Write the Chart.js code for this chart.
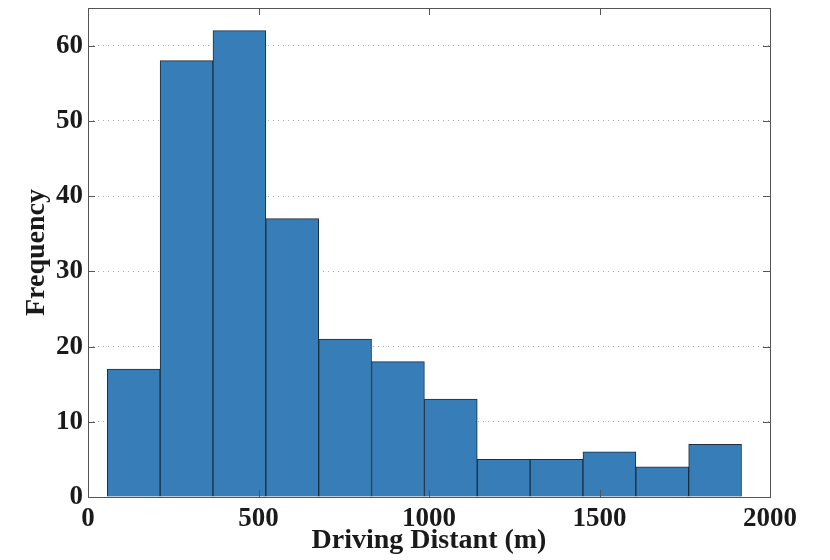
<!DOCTYPE html>
<html>
<head>
<meta charset="utf-8">
<script src="https://cdn.jsdelivr.net/npm/chart.js@4"></script>
<style>
  html, body { margin: 0; padding: 0; background: #fff; }
  #chart { display: block; }
</style>
</head>
<body>
<canvas id="chart" width="830" height="560"></canvas>
<script>
/* Datos del histograma (centros de cada clase y frecuencias) */
const binCenters = [134, 289, 444, 599, 754, 909, 1064, 1219, 1374, 1529, 1684, 1839];
const frequencies = [17, 58, 62, 37, 21, 18, 13, 5, 5, 6, 4, 7];
const xTicks = [0, 500, 1000, 1500, 2000];
const yTicks = [0, 10, 20, 30, 40, 50, 60];
const xLabel = "Driving Distant (m)";
const yLabel = "Frequency";

const ctx = document.getElementById("chart");
const fontFamily = "'Liberation Serif', 'Times New Roman', serif";

/* caja del eje y marcas hacia adentro, estilo matlab */
const boxPlugin = {
  id: "box",
  afterDatasetsDraw(chart) {
    const { ctx: c, chartArea: a, scales } = chart;
    const len = 7;
    c.save();
    c.strokeStyle = "#555";
    c.lineWidth = 1;
    c.beginPath();
    xTicks.forEach((v) => {
      const px = Math.round(scales.x.getPixelForValue(v)) + 0.5;
      c.moveTo(px, a.bottom); c.lineTo(px, a.bottom - len);
      c.moveTo(px, a.top); c.lineTo(px, a.top + len);
    });
    yTicks.forEach((v) => {
      const py = Math.round(scales.y.getPixelForValue(v)) + 0.5;
      c.moveTo(a.left, py); c.lineTo(a.left + len, py);
      c.moveTo(a.right, py); c.lineTo(a.right - len, py);
    });
    c.stroke();
    c.strokeRect(Math.round(a.left) + 0.5, Math.round(a.top) + 0.5,
      Math.round(a.right - a.left), Math.round(a.bottom - a.top));
    c.restore();
  },
};

const config = {
  type: "bar",
  data: {
    datasets: [
      {
        data: binCenters.map((x, i) => ({ x: x, y: frequencies[i] })),
        backgroundColor: "#377eb8",
        borderColor: "#1c2e40",
        borderWidth: 1,
        barPercentage: 1,
        categoryPercentage: 1,
      },
    ],
  },
  options: {
    responsive: false,
    animation: false,
    layout: { padding: { left: 0, right: 60, top: 8, bottom: 0 } },
    plugins: { legend: { display: false }, tooltip: { enabled: false } },
    scales: {
      x: {
        type: "linear",
        min: 0,
        max: 2000,
        offset: false,
        afterBuildTicks: (s) => { s.ticks = xTicks.map((v) => ({ value: v })); },
        afterFit: (s) => { s.height = 63; s.paddingLeft = 0; s.paddingRight = 0; },
        ticks: {
          autoSkip: false,
          maxRotation: 0,
          padding: 6,
          color: "#1a1a1a",
          callback: (v) => String(v),
          font: { family: fontFamily, size: 27, weight: "bold" },
        },
        grid: { display: false, offset: false, drawTicks: false },
        border: { display: false },
        title: {
          display: true,
          text: xLabel,
          color: "#1a1a1a",
          font: { family: fontFamily, size: 28, weight: "bold", lineHeight: 1.2 },
          padding: { top: 0, bottom: 2 },
        },
      },
      y: {
        min: 0,
        max: 65,
        afterBuildTicks: (s) => { s.ticks = yTicks.map((v) => ({ value: v })); },
        afterFit: (s) => { s.width = 88; s.paddingTop = 0; s.paddingBottom = 0; },
        ticks: {
          padding: 5,
          color: "#1a1a1a",
          callback: (v) => String(v),
          font: { family: fontFamily, size: 27, weight: "bold" },
        },
        grid: {
          drawTicks: false,
          color: (c) => (c.tick && c.tick.value === 0 ? "rgba(0,0,0,0)" : "#a8a8a8"),
          lineWidth: 1,
        },
        border: { display: false, dash: [1, 4] },
        title: {
          display: true,
          text: yLabel,
          color: "#1a1a1a",
          font: { family: fontFamily, size: 28, weight: "bold", lineHeight: 1.2 },
          padding: { top: 20, bottom: 0 },
        },
      },
    },
  },
  plugins: [boxPlugin],
};

const myChart = new Chart(ctx, config);
</script>
</body>
</html>
